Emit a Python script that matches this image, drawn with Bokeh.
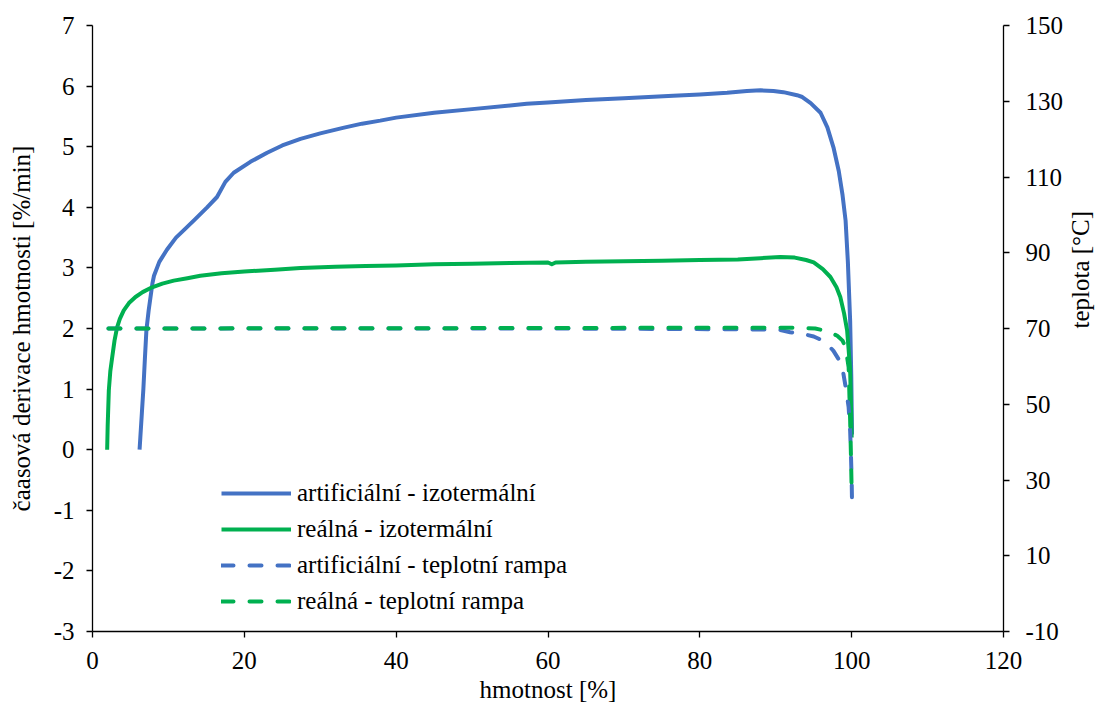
import math
from bokeh.plotting import figure
from bokeh.models import Range1d, LinearAxis, Legend, LegendItem, FixedTicker
from bokeh.embed import file_html
from bokeh.resources import INLINE

# --- data -----------------------------------------------------------------
# mass loss rate, isothermal runs [%/min] vs. remaining mass [%]
art_iso_x = [6.2, 6.3, 6.5, 6.7, 6.9, 7.1, 7.4, 7.9, 8.1, 8.8, 9.8, 11.0, 12.0,
             13.5, 15.1, 16.4, 17.5, 18.6, 20.8, 23.0, 25.0, 27.4, 30.0, 33.0,
             35.5, 37.9, 40.0, 45.0, 50.0, 55.0, 57.2, 60.0, 65.0, 70.0, 76.5,
             80.0, 83.6, 86.2, 88.0, 89.7, 91.0, 92.8, 93.5, 94.6, 95.9, 96.8,
             97.6, 98.3, 98.8, 99.2, 99.5, 99.8, 99.95, 100.05]
art_iso_y = [0.0, 0.2, 0.6, 1.0, 1.5, 1.97, 2.3, 2.75, 2.87, 3.1, 3.3, 3.5, 3.62,
             3.8, 4.0, 4.17, 4.42, 4.57, 4.75, 4.9, 5.02, 5.13, 5.22, 5.31,
             5.38, 5.43, 5.48, 5.56, 5.62, 5.68, 5.71, 5.73, 5.77, 5.80, 5.84,
             5.86, 5.89, 5.92, 5.93, 5.92, 5.90, 5.85, 5.82, 5.72, 5.56, 5.32,
             4.99, 4.60, 4.20, 3.78, 3.10, 2.13, 1.20, 0.25]

real_iso_x = [1.93, 2.0, 2.15, 2.35, 2.6, 2.9, 3.24, 3.6, 4.12, 4.8, 5.66, 6.6,
              7.85, 9.2, 10.7, 12.5, 14.2, 17.0, 20.0, 24.0, 27.4, 32.0, 36.0,
              40.0, 45.0, 50.0, 55.0, 60.0, 60.5, 61.0, 65.0, 70.0, 75.0, 80.0,
              85.0, 88.0, 90.6, 92.5, 94.0, 95.0, 96.2, 97.2, 98.0, 98.5, 99.0,
              99.4, 99.6, 99.8, 99.9, 100.0]
real_iso_y = [0.0, 0.4, 0.98, 1.3, 1.53, 1.8, 2.02, 2.16, 2.3, 2.42, 2.52, 2.6,
              2.68, 2.74, 2.79, 2.83, 2.87, 2.91, 2.94, 2.97, 3.0, 3.02, 3.03,
              3.04, 3.06, 3.07, 3.08, 3.09, 3.06, 3.09, 3.10, 3.11, 3.12, 3.13,
              3.14, 3.16, 3.18, 3.17, 3.13, 3.09, 2.98, 2.85, 2.68, 2.52, 2.25,
              1.97, 1.65, 1.31, 0.80, 0.20]

# temperature during the ramp runs [°C]
art_ramp_x = [2.1, 30.0, 60.0, 85.0, 89.0, 90.6, 91.9, 93.5, 95.0, 96.5, 97.6,
              98.4, 98.9, 99.3, 99.6, 99.8, 99.9, 100.0, 100.05]
art_ramp_t = [70.0, 70.0, 70.0, 69.8, 69.7, 69.6, 69.0, 68.6, 67.9, 66.5, 64.1,
              61.5, 58.2, 53.5, 49.2, 43.0, 37.0, 30.0, 23.8]

real_ramp_x = [2.1, 50.0, 80.0, 92.0, 95.2, 96.8, 98.1, 98.8, 99.2, 99.6, 99.8,
               99.9, 100.0]
real_ramp_t = [70.0, 70.1, 70.2, 70.2, 70.0, 69.3, 68.1, 66.8, 65.0, 59.8, 45.7,
               37.0, 27.3]

x_ticks = [0, 20, 40, 60, 80, 100, 120]
y_ticks = [-3, -2, -1, 0, 1, 2, 3, 4, 5, 6, 7]
t_ticks = [-10, 10, 30, 50, 70, 90, 110, 130, 150]

BLUE = "#4472C4"
GREEN = "#00B050"
FONT = "Liberation Serif"
FS = "25px"

# --- figure ---------------------------------------------------------------
p = figure(width=1110, height=711, x_range=Range1d(0, 120), y_range=Range1d(-3, 7),
           output_backend="svg", toolbar_location=None,
           min_border_left=92, min_border_right=107, min_border_top=25,
           min_border_bottom=80)
p.extra_y_ranges = {"temp": Range1d(-10, 150)}
p.outline_line_color = None
p.xgrid.visible = False
p.ygrid.visible = False
p.background_fill_color = "white"
p.border_fill_color = "white"

temp_axis = LinearAxis(y_range_name="temp")
p.add_layout(temp_axis, "right")

for ax, ticks in ((p.xaxis[0], x_ticks), (p.yaxis[0], y_ticks), (temp_axis, t_ticks)):
    ax.ticker = FixedTicker(ticks=ticks)
    # plain hyphen for negative numbers
    ax.major_label_overrides = {t: str(t) for t in ticks}
    ax.minor_tick_line_color = None
    ax.major_tick_in = 0
    ax.major_tick_out = 6
    ax.major_tick_line_color = "black"
    ax.major_tick_line_width = 1.3
    ax.axis_line_color = "black"
    ax.axis_line_width = 1.3
    ax.major_label_text_font = FONT
    ax.major_label_text_font_size = FS
    ax.major_label_text_color = "black"
    ax.axis_label_text_font = FONT
    ax.axis_label_text_font_size = FS
    ax.axis_label_text_font_style = "normal"
    ax.axis_label_text_color = "black"

p.xaxis[0].axis_label = "hmotnost [%]"
p.xaxis[0].major_label_standoff = 14
p.xaxis[0].axis_label_standoff = 4
p.yaxis[0].axis_label = "čaasová derivace hmotnosti [%/min]"
p.yaxis[0].major_label_standoff = 12
p.yaxis[0].axis_label_standoff = 16
temp_axis.major_label_standoff = 16
temp_axis.axis_label = "teplota [°C]"
temp_axis.axis_label_standoff = 14
# title reads bottom to top, like the left one
temp_axis.axis_label_orientation = math.pi / 2

# --- series ---------------------------------------------------------------
r1 = p.line(art_iso_x, art_iso_y, line_color=BLUE, line_width=4, line_join="round")
r2 = p.line(real_iso_x, real_iso_y, line_color=GREEN, line_width=4, line_join="round")
r3 = p.line(art_ramp_x, art_ramp_t, y_range_name="temp", line_color=BLUE,
            line_width=4, line_dash="12 16", line_cap="round", line_join="round")
r4 = p.line(real_ramp_x, real_ramp_t, y_range_name="temp", line_color=GREEN,
            line_width=4, line_dash="12 16", line_cap="round", line_join="round")

legend = Legend(items=[
    LegendItem(label="artificiální - izotermální", renderers=[r1]),
    LegendItem(label="reálná - izotermální", renderers=[r2]),
    LegendItem(label="artificiální - teplotní rampa", renderers=[r3]),
    LegendItem(label="reálná - teplotní rampa", renderers=[r4]),
], location=(129, 16))
legend.label_text_font = FONT
legend.label_text_font_size = FS
legend.label_text_color = "black"
legend.glyph_width = 70
legend.glyph_height = 24
legend.label_height = 24
legend.label_standoff = 6
legend.spacing = 8
legend.padding = 0
legend.margin = 0
legend.border_line_color = None
legend.background_fill_alpha = 0
p.add_layout(legend, "center")

open("out.html", "w").write(file_html(p, INLINE))
